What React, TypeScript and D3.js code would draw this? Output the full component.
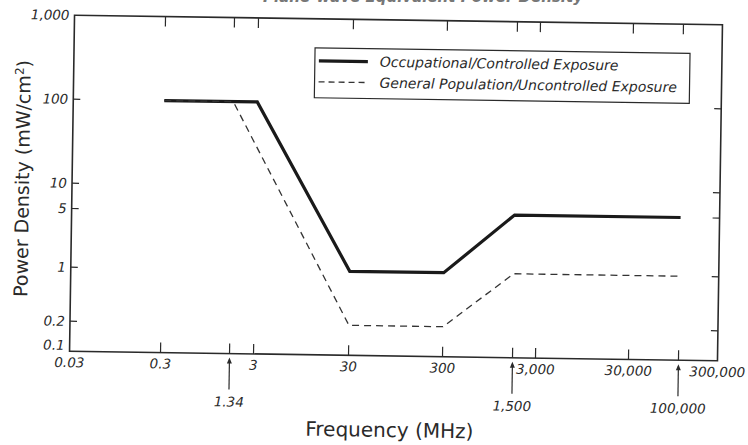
import React from 'react';
import * as d3 from 'd3';

// frequency (MHz) / power density (mW/cm2)
const occFreq = [0.3, 3, 30, 300, 1500, 100000];
const occPower = [100, 100, 1, 1, 5, 5];
const genFreq = [0.3, 1.34, 30, 300, 1500, 100000];
const genPower = [100, 100, 0.2, 0.2, 1, 1];

const freqTicks = [0.3, 1.34, 3, 30, 300, 1500, 3000, 30000, 100000];
const freqLabelValues = [0.03, 0.3, 3, 30, 300, 3000, 30000, 300000];
const freqLabelTexts = ['0.03', '0.3', '3', '30', '300', '3,000', '30,000', '300,000'];
const arrowValues = [1.34, 1500, 100000];
const arrowTexts = ['1.34', '1,500', '100,000'];

const powerTicks = [0.2, 1, 5, 10, 100];
const powerLabelValues = [0.1, 0.2, 1, 5, 10, 100, 1000];
const powerLabelTexts = ['0.1', '0.2', '1', '5', '10', '100', '1,000'];

const seriesNames = ['Occupational/Controlled Exposure', 'General Population/Uncontrolled Exposure'];

const W = 748;
const H = 445;
const left = 72, right = 720, top = 20, bottom = 356;
const font = '"DejaVu Sans", sans-serif';
const ink = '#2a2a2a';

export default function App() {
  // the scanned axes are hand drawn and not quite logarithmic, so follow their tick marks
  const x = d3.scaleLog()
    .domain([0.03, 0.3, 1.34, 3, 30, 300, 1500, 3000, 30000, 100000, 300000])
    .range([left, 163, 232, 256, 351, 445, 515, 538, 631, 681, right]);
  const y = d3.scaleLog().domain([0.1, 0.2, 1, 1000]).range([bottom, 326, 272, top]);

  const line = d3.line<[number, number]>()
    .x(d => x(d[0]))
    .y(d => y(d[1]));

  const occ = line(occFreq.map((f, i) => [f, occPower[i]] as [number, number]));
  const gen = line(genFreq.map((f, i) => [f, genPower[i]] as [number, number]));

  return (
    <svg width={W} height={H} style={{ position: 'absolute', left: 0, top: 0, background: '#fff' }}>
      <text x={423} y={2} textAnchor="middle" fontFamily={font} fontStyle="italic" fontWeight="bold"
        fontSize={15} fill="#777">Plane-wave Equivalent Power Density</text>
      <g transform="rotate(0.85, 396, 188)">
        <rect x={left} y={top} width={right - left} height={bottom - top} fill="none" stroke={ink} strokeWidth={1.6} />

        {freqTicks.map(f => (
          <g key={'xt' + f} stroke={ink} strokeWidth={1.2}>
            <line x1={x(f)} x2={x(f)} y1={top} y2={top + 10} />
            <line x1={x(f)} x2={x(f)} y1={bottom} y2={bottom - 10} />
          </g>
        ))}
        {powerTicks.map(p => (
          <g key={'yt' + p} stroke={ink} strokeWidth={1.2}>
            <line x1={left} x2={left + 7} y1={y(p)} y2={y(p)} />
            <line x1={right} x2={right - 7} y1={y(p)} y2={y(p)} />
          </g>
        ))}

        {freqLabelValues.map((f, i) => (
          <text key={'xl' + f} x={x(f)} y={bottom + 16} textAnchor="middle" fontFamily={font}
            fontStyle="italic" fontSize={13.5} fill={ink}>{freqLabelTexts[i]}</text>
        ))}
        {powerLabelValues.map((p, i) => (
          <text key={'yl' + p} x={left - 5} y={y(p) - (p === 0.1 ? 6 : 0)} dy="0.35em" textAnchor="end"
            fontFamily={font} fontStyle="italic" fontSize={13.5} fill={ink}>{powerLabelTexts[i]}</text>
        ))}

        {arrowValues.map((f, i) => (
          <g key={'ar' + f}>
            <line x1={x(f)} x2={x(f)} y1={bottom + 6} y2={bottom + 36} stroke={ink} strokeWidth={1.2} />
            <path d={`M${x(f)},${bottom + 4}l-2.5,6h5z`} fill={ink} />
            <text x={x(f)} y={bottom + 53} textAnchor="middle" fontFamily={font} fontStyle="italic"
              fontSize={13.5} fill={ink}>{arrowTexts[i]}</text>
          </g>
        ))}

        <path d={occ ?? ''} fill="none" stroke="#1a1a1a" strokeWidth={3.2} strokeLinejoin="miter" />
        <path d={gen ?? ''} fill="none" stroke="#333" strokeWidth={1.3} strokeDasharray="7,5" />

        <g>
          <rect x={313} y={49} width={375} height={50} fill="#fff" stroke={ink} strokeWidth={1.2} />
          <line x1={317} x2={366} y1={62} y2={62} stroke="#1a1a1a" strokeWidth={3.2} />
          <line x1={317} x2={366} y1={83} y2={83} stroke="#333" strokeWidth={1.3} strokeDasharray="6,4" />
          <text x={378} y={67} fontFamily={font} fontStyle="italic" fontSize={14} fill={ink}>{seriesNames[0]}</text>
          <text x={378} y={88} fontFamily={font} fontStyle="italic" fontSize={14} fill={ink}>{seriesNames[1]}</text>
        </g>

        <text x={393} y={437} textAnchor="middle" fontFamily={font} fontSize={20} fill={ink}>Frequency (MHz)</text>
        <text transform="translate(29,184) rotate(-90)" textAnchor="middle" fontFamily={font} fontSize={19} fill={ink}>
          Power Density (mW/cm<tspan dy={-7} fontSize={12}>2</tspan><tspan dy={7}>)</tspan>
        </text>
      </g>
    </svg>
  );
}
